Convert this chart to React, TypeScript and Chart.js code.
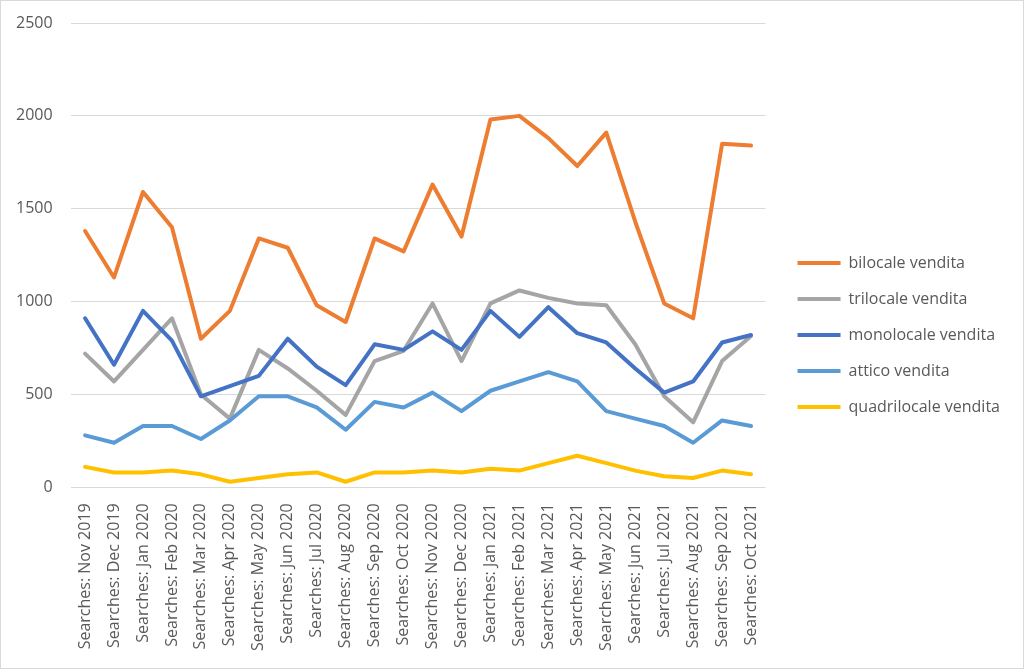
import React, { useEffect, useRef } from "react";
import { Chart, registerables } from "chart.js";

Chart.register(...registerables);

const categories = [
  "Searches: Nov 2019", "Searches: Dec 2019", "Searches: Jan 2020", "Searches: Feb 2020",
  "Searches: Mar 2020", "Searches: Apr 2020", "Searches: May 2020", "Searches: Jun 2020",
  "Searches: Jul 2020", "Searches: Aug 2020", "Searches: Sep 2020", "Searches: Oct 2020",
  "Searches: Nov 2020", "Searches: Dec 2020", "Searches: Jan 2021", "Searches: Feb 2021",
  "Searches: Mar 2021", "Searches: Apr 2021", "Searches: May 2021", "Searches: Jun 2021",
  "Searches: Jul 2021", "Searches: Aug 2021", "Searches: Sep 2021", "Searches: Oct 2021",
];

const bilocale = [1380, 1130, 1590, 1400, 800, 950, 1340, 1290, 980, 890, 1340, 1270, 1630, 1350, 1980, 2000, 1880, 1730, 1910, 1430, 990, 910, 1850, 1840];
const trilocale = [720, 570, 740, 910, 500, 370, 740, 640, 520, 390, 680, 735, 990, 680, 990, 1060, 1020, 990, 980, 770, 490, 350, 680, 815];
const monolocale = [910, 660, 950, 790, 490, 545, 600, 800, 650, 550, 770, 740, 840, 740, 950, 810, 970, 830, 780, 640, 510, 570, 780, 820];
const attico = [280, 240, 330, 330, 260, 360, 490, 490, 430, 310, 460, 430, 510, 410, 520, 570, 620, 570, 410, 370, 330, 240, 360, 330];
const quadrilocale = [110, 80, 80, 90, 70, 30, 50, 70, 80, 30, 80, 80, 90, 80, 100, 90, 130, 170, 130, 90, 60, 50, 90, 70];

const seriesNames = ["bilocale vendita", "trilocale vendita", "monolocale vendita", "attico vendita", "quadrilocale vendita"];
const seriesColors = ["#ED7D31", "#A5A5A5", "#4472C4", "#5B9BD5", "#FFC000"];
const seriesData = [bilocale, trilocale, monolocale, attico, quadrilocale];

const yTicks = [0, 500, 1000, 1500, 2000, 2500];

const LEGEND_GAP = 12;
const LEGEND_SHIFT_Y = -6;

const legendGapPlugin = {
  id: "legendGap",
  beforeLayout(chart: any) {
    const lg: any = chart.legend;
    if (lg && !lg.__gapPatched) {
      const fit = lg.fit.bind(lg);
      lg.fit = function () {
        fit();
        this.width += LEGEND_GAP;
      };
      const draw = lg.draw.bind(lg);
      lg.draw = function () {
        const ctx = this.ctx;
        ctx.save();
        ctx.translate(LEGEND_GAP, LEGEND_SHIFT_Y);
        draw();
        ctx.restore();
      };
      lg.__gapPatched = true;
    }
  },
};

export default function App() {
  const ref = useRef<HTMLCanvasElement | null>(null);

  useEffect(() => {
    document.body.style.margin = "0";
    if (!ref.current) return;
    Chart.defaults.font.family = "'Open Sans', sans-serif";
    Chart.defaults.color = "#595959";
    const chart = new Chart(ref.current, {
      type: "line",
      data: {
        labels: categories,
        datasets: seriesData.map((d, i) => ({
          label: seriesNames[i],
          data: d,
          borderColor: seriesColors[i],
          backgroundColor: seriesColors[i],
          borderWidth: 4,
          pointRadius: 0,
          pointHoverRadius: 0,
          tension: 0,
          fill: false,
          borderJoinStyle: "round" as const,
          borderCapStyle: "round" as const,
          order: seriesData.length - i,
        })),
      },
      plugins: [legendGapPlugin],
      options: {
        animation: false,
        responsive: false,
        maintainAspectRatio: false,
        layout: { padding: { left: -3, top: 22, right: 13, bottom: 9 } },
        plugins: {
          tooltip: { enabled: false },
          legend: {
            position: "right",
            labels: {
              boxWidth: 43,
              boxHeight: 4,
              padding: 20,
              font: { size: 16 },
              color: "#595959",
              generateLabels: (c: any) =>
                c.data.datasets.map((ds: any, i: number) => ({
                  text: ds.label,
                  fillStyle: ds.borderColor,
                  strokeStyle: ds.borderColor,
                  lineWidth: 0,
                  hidden: false,
                  datasetIndex: i,
                  fontColor: "#595959",
                })),
            },
          },
        },
        scales: {
          x: {
            offset: true,
            grid: { display: false },
            border: { display: false },
            afterFit: (s: any) => {
              s.paddingLeft = 0;
              s.paddingRight = 0;
            },
            ticks: {
              autoSkip: false,
              minRotation: 90,
              maxRotation: 90,
              padding: 8,
              font: { size: 16 },
              color: "#595959",
            },
          },
          y: {
            min: 0,
            max: 2500,
            afterBuildTicks: (s: any) => {
              s.ticks = yTicks.map((v) => ({ value: v }));
            },
            afterFit: (s: any) => {
              s.paddingTop = 0;
              s.paddingBottom = 0;
            },
            grid: { color: "#D9D9D9", lineWidth: 1, drawTicks: false },
            border: { display: false },
            ticks: {
              padding: 18,
              font: { size: 16 },
              color: "#595959",
              callback: (v: any) => String(v),
            },
          },
        },
      },
    });
    return () => chart.destroy();
  }, []);

  return (
    <div
      style={{
        width: 1024,
        height: 669,
        boxSizing: "border-box",
        border: "1px solid #D9D9D9",
        background: "#fff",
        overflow: "hidden",
      }}
    >
      <canvas ref={ref} width={1022} height={667} style={{ display: "block" }} />
    </div>
  );
}
